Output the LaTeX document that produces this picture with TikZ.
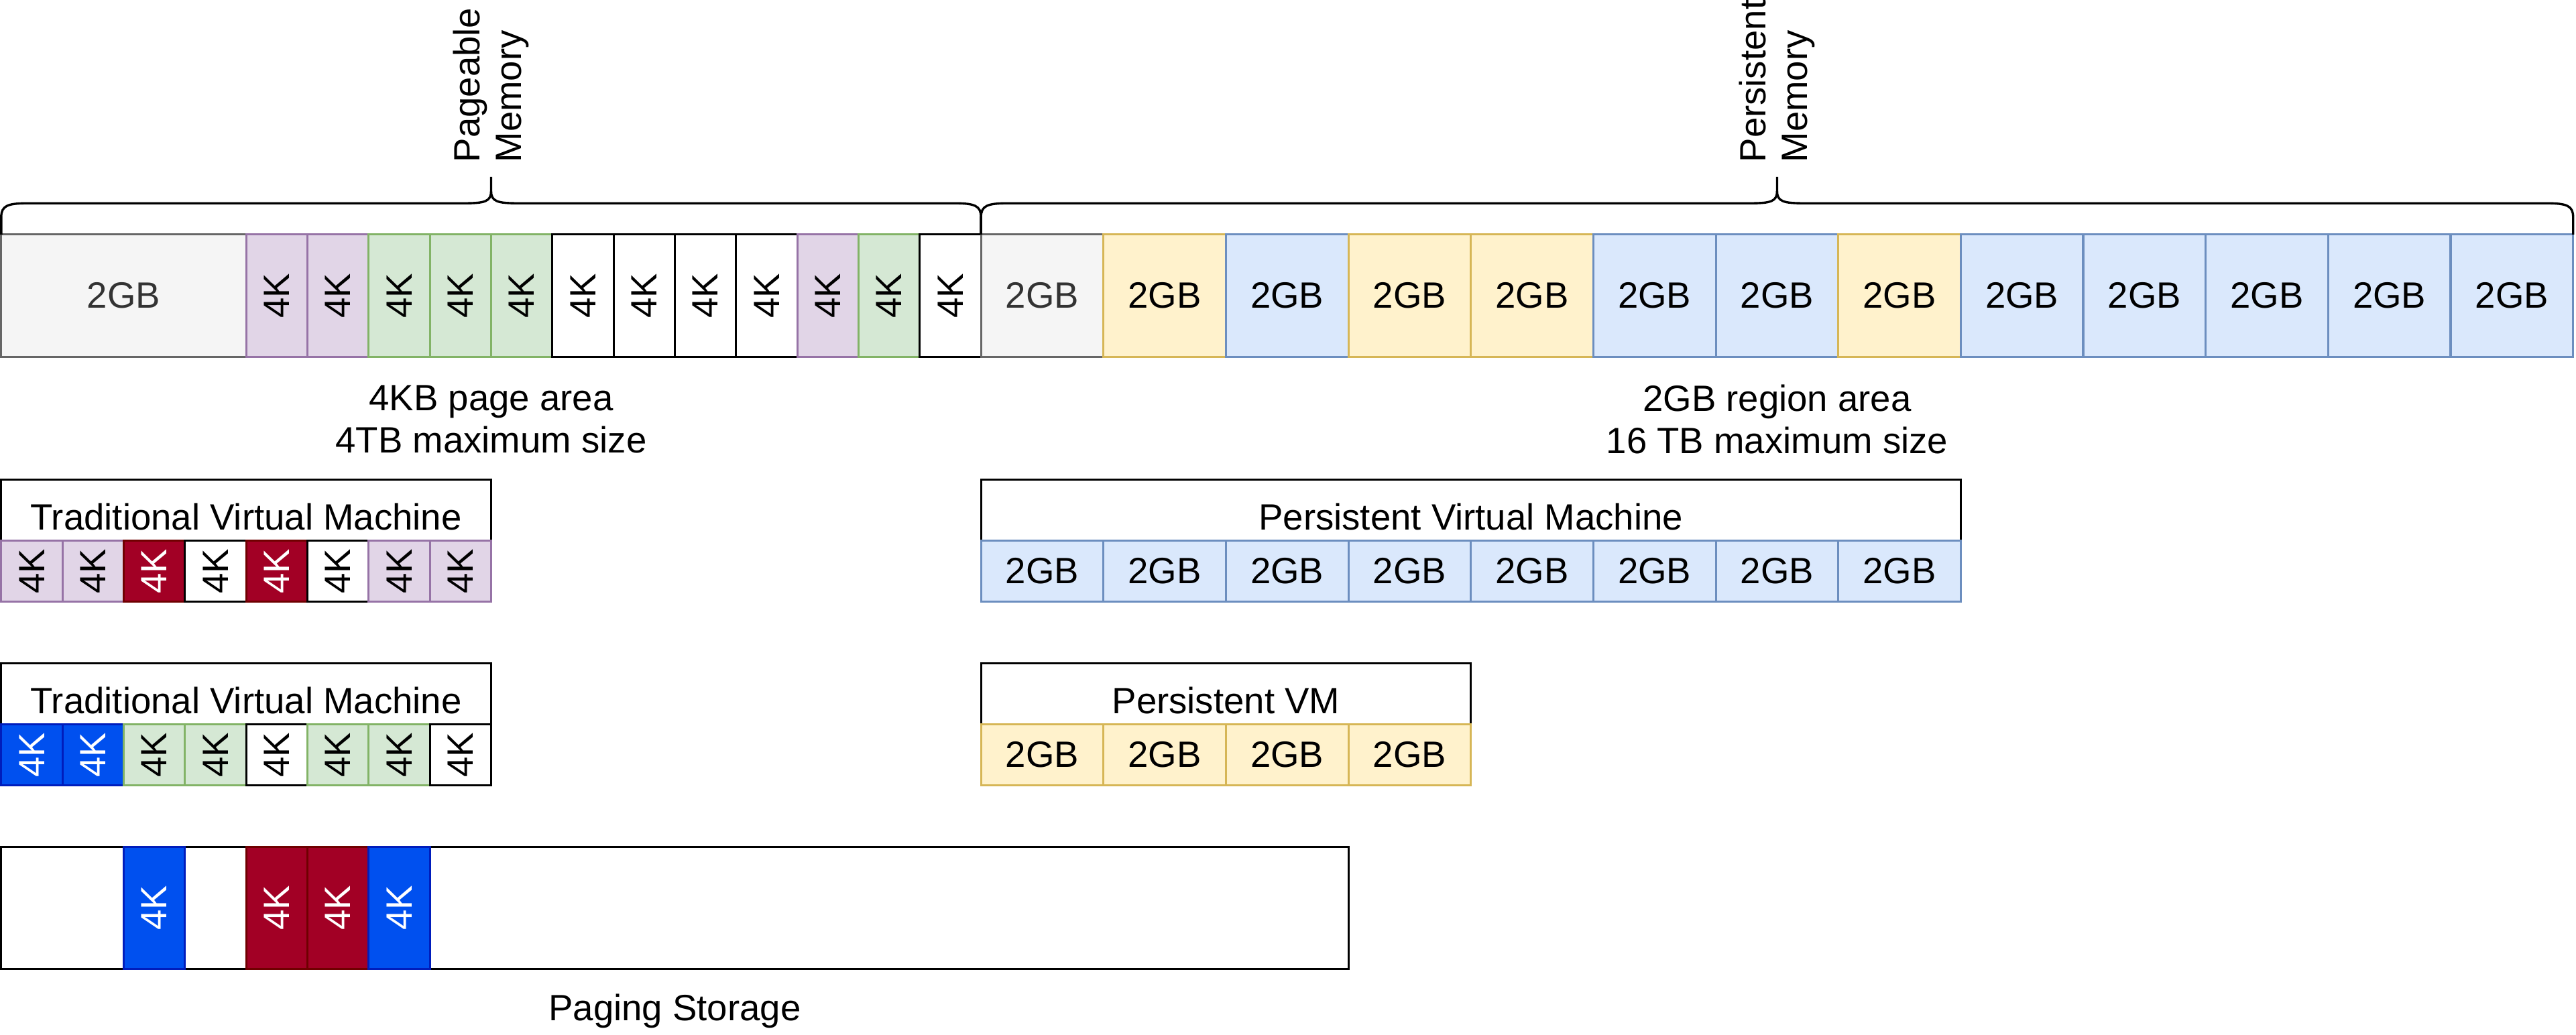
\documentclass[tikz,border=0pt]{standalone}
\usepackage{fontspec}
\setmainfont{Liberation Sans}
\usepackage{graphicx}
\newcommand{\dgfont}{\fontsize{17}{19.5}\selectfont}
% colour sets: F = fill, S = stroke, T = text
\definecolor{gyF}{HTML}{F5F5F5}\definecolor{gyS}{HTML}{666666}\definecolor{gyT}{HTML}{333333}
\definecolor{puF}{HTML}{E1D5E7}\definecolor{puS}{HTML}{9673A6}\definecolor{puT}{HTML}{000000}
\definecolor{grF}{HTML}{D5E8D4}\definecolor{grS}{HTML}{82B366}\definecolor{grT}{HTML}{000000}
\definecolor{whF}{HTML}{FFFFFF}\definecolor{whS}{HTML}{000000}\definecolor{whT}{HTML}{000000}
\definecolor{yeF}{HTML}{FFF2CC}\definecolor{yeS}{HTML}{D6B656}\definecolor{yeT}{HTML}{000000}
\definecolor{blF}{HTML}{DAE8FC}\definecolor{blS}{HTML}{6C8EBF}\definecolor{blT}{HTML}{000000}
\definecolor{rdF}{HTML}{A20025}\definecolor{rdS}{HTML}{6F0000}\definecolor{rdT}{HTML}{FFFFFF}
\definecolor{sbF}{HTML}{0050EF}\definecolor{sbS}{HTML}{001DBC}\definecolor{sbT}{HTML}{FFFFFF}
\begin{document}
\begin{tikzpicture}[
  box/.style={draw, line width=1pt, inner sep=0pt, outer sep=0pt, anchor=north west, font=\dgfont},
  tall/.style={box, minimum height=2cm},
  short/.style={box, minimum height=1cm},
  titlebox/.style={short, fill=white, draw=black, text height=0.66cm, text depth=0pt},
  lbl/.style={font=\dgfont, align=center, inner sep=0pt},
  vlbl/.style={font=\dgfont, align=left, rotate=90, anchor=west, inner sep=0pt},
  brace/.style={draw=black, line width=1.05pt}
]
\useasboundingbox (-0.02,0) rectangle (42.047,-16.905);

% ---------- main memory bar ----------
\node[tall, minimum width=4cm, fill=gyF, draw=gyS, text=gyT] (g0) at (0,-3.83) {2GB};
\foreach \s [count=\i] in {pu,pu,gr,gr,gr,wh,wh,wh,wh,pu,gr,wh}
  \node[tall, minimum width=1cm, fill=\s F, draw=\s S, text=\s T] (k\i) at ({3+\i},-3.83) {\rotatebox{90}{4K}};
\foreach \s [count=\i] in {gy,ye,bl,ye,ye,bl,bl,ye,bl,bl,bl,bl,bl}
  \node[tall, minimum width=2cm, fill=\s F, draw=\s S, text=\s T] (r\i) at ({14+2*\i},-3.83) {2GB};

% ---------- braces ----------
\draw[brace] (0,-3.83) -- (0,-3.55) .. controls (0,-3.36) and (0.1,-3.32) .. (0.44,-3.32)
  -- (7.56,-3.32) .. controls (7.9,-3.32) and (8,-3.29) .. (8,-3.12) -- (8,-2.89);
\draw[brace] (8,-3.12) .. controls (8,-3.29) and (8.1,-3.32) .. (8.44,-3.32)
  -- (15.56,-3.32) .. controls (15.9,-3.32) and (16,-3.36) .. (16,-3.55) -- (16,-3.83);
\draw[brace] (16,-3.83) -- (16,-3.55) .. controls (16,-3.36) and (16.1,-3.32) .. (16.44,-3.32)
  -- (28.56,-3.32) .. controls (28.9,-3.32) and (29,-3.29) .. (29,-3.12) -- (29,-2.89);
\draw[brace] (29,-3.12) .. controls (29,-3.29) and (29.1,-3.32) .. (29.44,-3.32)
  -- (41.56,-3.32) .. controls (41.9,-3.32) and (42,-3.36) .. (42,-3.55) -- (42,-3.83);

\node[vlbl] (lpage) at (8,-2.66) {Pageable\\Memory};
\node[vlbl] (lpers) at (29,-2.66) {Persistent\\Memory};

% ---------- area labels ----------
\node[lbl] (l4k) at (8,-6.85) {4KB page area\\4TB maximum size};
\node[lbl] (l2g) at (29,-6.85) {2GB region area\\16 TB maximum size};

% ---------- traditional VM 1 ----------
\node[titlebox, minimum width=8cm] (tvm1) at (0,-7.83) {Traditional Virtual Machine};
\foreach \s [count=\i] in {pu,pu,rd,wh,rd,wh,pu,pu}
  \node[short, minimum width=1cm, fill=\s F, draw=\s S, text=\s T] (a\i) at ({\i-1},-8.83) {\rotatebox{90}{4K}};

% ---------- traditional VM 2 ----------
\node[titlebox, minimum width=8cm] (tvm2) at (0,-10.83) {Traditional Virtual Machine};
\foreach \s [count=\i] in {sb,sb,gr,gr,wh,gr,gr,wh}
  \node[short, minimum width=1cm, fill=\s F, draw=\s S, text=\s T] (b\i) at ({\i-1},-11.83) {\rotatebox{90}{4K}};

% ---------- persistent VMs ----------
\node[titlebox, minimum width=16cm] (pvm) at (16,-7.83) {Persistent Virtual Machine};
\foreach \i in {1,...,8}
  \node[short, minimum width=2cm, fill=blF, draw=blS] (c\i) at ({14+2*\i},-8.83) {2GB};
\node[titlebox, minimum width=8cm] (pvms) at (16,-10.83) {Persistent VM};
\foreach \i in {1,...,4}
  \node[short, minimum width=2cm, fill=yeF, draw=yeS] (d\i) at ({14+2*\i},-11.83) {2GB};

% ---------- paging storage ----------
\node[tall, minimum width=22cm, fill=white, draw=black] (pg) at (0,-13.83) {};
\node[tall, minimum width=1cm, fill=sbF, draw=sbS, text=sbT] (pg1) at (2,-13.83) {\rotatebox{90}{4K}};
\node[tall, minimum width=1cm, fill=rdF, draw=rdS, text=rdT] (pg2) at (4,-13.83) {\rotatebox{90}{4K}};
\node[tall, minimum width=1cm, fill=rdF, draw=rdS, text=rdT] (pg3) at (5,-13.83) {\rotatebox{90}{4K}};
\node[tall, minimum width=1cm, fill=sbF, draw=sbS, text=sbT] (pg4) at (6,-13.83) {\rotatebox{90}{4K}};
\node[lbl] (lps) at (11,-16.51) {Paging Storage};
\end{tikzpicture}
\end{document}
